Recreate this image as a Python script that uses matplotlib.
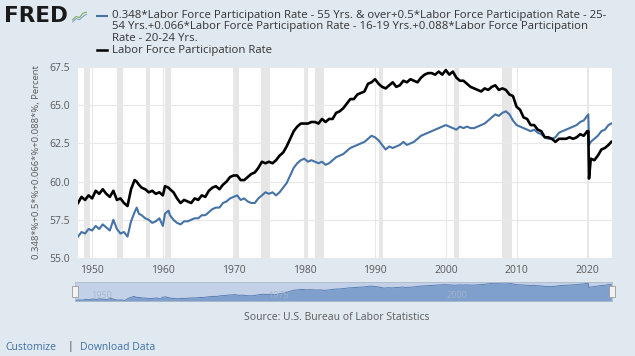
import matplotlib
matplotlib.use("Agg")
import matplotlib.pyplot as plt
import numpy as np

plt.rcParams['font.family'] = ['Open Sans', 'DejaVu Sans']

# black: Labor Force Participation Rate
lfpr_t = [1948.0, 1948.5, 1949.0, 1949.5, 1950.0, 1950.5, 1951.0, 1951.5, 1952.0, 1952.5,
          1953.0, 1953.5, 1954.0, 1954.5, 1955.0, 1955.5, 1956.0, 1956.3, 1956.6, 1957.0,
          1957.5, 1958.0, 1958.5, 1959.0, 1959.5, 1960.0, 1960.3, 1960.8, 1961.0, 1961.5,
          1962.0, 1962.5, 1963.0, 1963.5, 1964.0, 1964.5, 1965.0, 1965.5, 1966.0, 1966.5,
          1967.0, 1967.5, 1968.0, 1968.5, 1969.0, 1969.5, 1970.0, 1970.5, 1971.0, 1971.5,
          1972.0, 1972.5, 1973.0, 1973.5, 1974.0, 1974.5, 1975.0, 1975.5, 1976.0, 1976.5,
          1977.0, 1977.5, 1978.0, 1978.5, 1979.0, 1979.5, 1980.0, 1980.5, 1981.0, 1981.5,
          1982.0, 1982.5, 1983.0, 1983.5, 1984.0, 1984.5, 1985.0, 1985.5, 1986.0, 1986.5,
          1987.0, 1987.5, 1988.0, 1988.5, 1989.0, 1989.5, 1990.0, 1990.5, 1991.0, 1991.5,
          1992.0, 1992.5, 1993.0, 1993.5, 1994.0, 1994.5, 1995.0, 1995.5, 1996.0, 1996.5,
          1997.0, 1997.5, 1998.0, 1998.5, 1999.0, 1999.5, 2000.0, 2000.5, 2001.0, 2001.5,
          2002.0, 2002.5, 2003.0, 2003.5, 2004.0, 2004.5, 2005.0, 2005.5, 2006.0, 2006.5,
          2007.0, 2007.5, 2008.0, 2008.5, 2009.0, 2009.5, 2010.0, 2010.5, 2011.0, 2011.5,
          2012.0, 2012.5, 2013.0, 2013.5, 2014.0, 2014.5, 2015.0, 2015.5, 2016.0, 2016.5,
          2017.0, 2017.5, 2018.0, 2018.5, 2019.0, 2019.5, 2020.0, 2020.15, 2020.25, 2020.5,
          2021.0, 2021.5, 2022.0, 2022.5, 2023.0, 2023.4]
lfpr = [58.6, 59.0, 58.8, 59.1, 58.9, 59.4, 59.2, 59.5, 59.2, 59.0,
        59.4, 58.8, 58.9, 58.6, 58.4, 59.5, 60.1, 60.0, 59.8, 59.6,
        59.5, 59.3, 59.4, 59.2, 59.3, 59.1, 59.7, 59.6, 59.5, 59.3,
        58.9, 58.6, 58.8, 58.7, 58.6, 58.9, 58.8, 59.1, 59.0, 59.4,
        59.6, 59.7, 59.5, 59.8, 60.0, 60.3, 60.4, 60.4, 60.1, 60.1,
        60.3, 60.5, 60.6, 60.9, 61.3, 61.2, 61.3, 61.2, 61.4, 61.7,
        61.9, 62.3, 62.8, 63.3, 63.6, 63.8, 63.8, 63.8, 63.9, 63.9,
        63.8, 64.1, 63.9, 64.1, 64.1, 64.5, 64.6, 64.8, 65.1, 65.4,
        65.4, 65.7, 65.8, 65.9, 66.4, 66.5, 66.7, 66.4, 66.2, 66.1,
        66.3, 66.5, 66.2, 66.3, 66.6, 66.5, 66.7, 66.6, 66.5, 66.8,
        67.0, 67.1, 67.1, 67.0, 67.2, 67.0, 67.3, 67.0, 67.2, 66.8,
        66.6, 66.6, 66.4, 66.2, 66.1, 66.0, 65.9, 66.1, 66.0, 66.2,
        66.3, 66.0, 66.1, 66.0, 65.7, 65.6, 64.9, 64.7, 64.2, 64.1,
        63.7, 63.7, 63.4, 63.3, 62.9, 62.9, 62.8, 62.6, 62.8, 62.8,
        62.8, 62.9, 62.8, 62.9, 63.1, 63.0, 63.3, 63.3, 60.2, 61.5,
        61.4, 61.7, 62.1, 62.2, 62.4, 62.6]

# blue: weighted sum of age group participation rates
wsum_t = lfpr_t
wsum = [56.4, 56.7, 56.6, 56.9, 56.8, 57.1, 56.9, 57.2, 57.0, 56.8,
        57.5, 56.9, 56.6, 56.7, 56.4, 57.4, 58.0, 58.3, 57.9, 57.8,
        57.6, 57.5, 57.3, 57.4, 57.6, 57.1, 57.9, 58.1, 57.8, 57.5,
        57.3, 57.2, 57.4, 57.4, 57.5, 57.6, 57.6, 57.8, 57.8, 58.0,
        58.2, 58.3, 58.3, 58.6, 58.7, 58.9, 59.0, 59.1, 58.8, 58.9,
        58.7, 58.6, 58.6, 58.9, 59.1, 59.3, 59.2, 59.3, 59.1, 59.3,
        59.6, 59.9, 60.4, 60.9, 61.2, 61.4, 61.5, 61.3, 61.4, 61.3,
        61.2, 61.3, 61.1, 61.2, 61.4, 61.6, 61.7, 61.8, 62.0, 62.2,
        62.3, 62.4, 62.5, 62.6, 62.8, 63.0, 62.9, 62.7, 62.4, 62.1,
        62.3, 62.2, 62.3, 62.4, 62.6, 62.4, 62.5, 62.6, 62.8, 63.0,
        63.1, 63.2, 63.3, 63.4, 63.5, 63.6, 63.7, 63.6, 63.5, 63.4,
        63.6, 63.5, 63.6, 63.5, 63.5, 63.6, 63.7, 63.8, 64.0, 64.2,
        64.4, 64.3, 64.5, 64.6, 64.4, 64.0, 63.7, 63.6, 63.5, 63.4,
        63.3, 63.4, 63.2, 63.1, 62.9, 62.8, 62.8, 62.9, 63.2, 63.3,
        63.4, 63.5, 63.6, 63.7, 63.9, 64.0, 64.3, 64.4, 62.4, 62.6,
        62.8, 63.0, 63.3, 63.4, 63.7, 63.8]

# recessions (start, end)
rec_start = [1948.83, 1953.5, 1957.58, 1960.25, 1969.92, 1973.83, 1980.0, 1981.5,
             1990.5, 2001.17, 2007.92, 2020.08]
rec_end = [1949.75, 1954.33, 1958.25, 1961.08, 1970.83, 1975.17, 1980.5, 1982.83,
           1991.17, 2001.83, 2009.42, 2020.25]

yticks = [55.0, 57.5, 60.0, 62.5, 65.0, 67.5]
xticks = [1950, 1960, 1970, 1980, 1990, 2000, 2010, 2020]

W, H = 635, 356
bg = '#e1e9f0'
txtc = '#595959'
blue = '#4572a7'

fig = plt.figure(figsize=(W / 100, H / 100), dpi=100, facecolor=bg)

ax = fig.add_axes([78 / W, 1 - 258 / H, 534 / W, (258 - 67) / H])
ax.set_facecolor('white')
for a, b in zip(rec_start, rec_end):
    ax.axvspan(a, b, color='#e6e6e6', lw=0, zorder=0)
ax.plot(wsum_t, wsum, color=blue, lw=1.5, zorder=3)
ax.plot(lfpr_t, lfpr, color='black', lw=1.9, zorder=4)
ax.set_xlim(1948.0, 2023.5)
ax.set_ylim(55.0, 67.5)
ax.set_yticks(yticks)
ax.set_yticklabels(['%.1f' % v for v in yticks])
ax.set_xticks(xticks)
ax.grid(True, color='#e8e8e8', lw=0.8, zorder=1)
ax.set_axisbelow(True)
for s in ax.spines.values():
    s.set_visible(False)
ax.tick_params(axis='both', length=0, labelsize=7.5, colors=txtc)
ax.tick_params(axis='x', pad=5)
ax.tick_params(axis='y', pad=6)
ax.set_ylabel('0.348*%+0.5*%+0.066*%+0.088*%, Percent', fontsize=6.8, color=txtc, labelpad=6)

# navigator
nav = fig.add_axes([75 / W, 1 - 301 / H, 537 / W, 19 / H])
nav.set_facecolor('#c3d1e8')
nav.fill_between(wsum_t, 55.0, wsum, color='#7f9fcc', lw=0)
nav.plot(wsum_t, wsum, color='#5b7fb5', lw=0.7)
nav.set_xlim(1948.0, 2023.5)
nav.set_ylim(56.2, 64.9)
nav.set_xticks([])
nav.set_yticks([])
for s in nav.spines.values():
    s.set_color('#b0bccb')
    s.set_linewidth(0.6)
for yr in [1950, 1975, 2000]:
    nav.text(yr + 0.2, 56.5, str(yr), fontsize=6.5, color='#a8b6cc', va='bottom', alpha=0.9)
for hx in [0.0, 1.0]:
    fig.patches.append(plt.Rectangle(((75 + hx * 537) / W - 3 / W, 1 - 297 / H), 6 / W, 11 / H,
                                     transform=fig.transFigure, facecolor='#f2f2f2',
                                     edgecolor='#999999', lw=0.6, zorder=5))

fig.text(337 / W, 1 - 318 / H, 'Source: U.S. Bureau of Labor Statistics', fontsize=7.5,
         color=txtc, ha='center', va='center')
fig.text(5 / W, 1 - 347 / H, 'Customize', fontsize=7.5, color='#3f6fa6', va='center')
fig.text(68 / W, 1 - 347 / H, '|', fontsize=7.5, color='#444444', va='center')
fig.text(80 / W, 1 - 347 / H, 'Download Data', fontsize=7.5, color='#3f6fa6', va='center')

# header
fig.text(4 / W, 1 - 16 / H, 'FRED', fontsize=15.5, fontweight='heavy', color='#1a1a1a',
         va='center', family=['DejaVu Sans'])
icon = fig.add_axes([72 / W, 1 - 24 / H, 15 / W, 14 / H])
icon.axis('off')
icon.plot([0, 1, 2, 3, 4], [0.2, 0.5, 0.4, 0.8, 0.9], color='#7fae5c', lw=0.8)
icon.plot([0, 1, 2, 3, 4], [0.0, 0.3, 0.2, 0.5, 0.7], color='#7fa3c9', lw=0.8)
icon.set_ylim(-0.2, 1.1)

leg_lines = ['0.348*Labor Force Participation Rate - 55 Yrs. & over+0.5*Labor Force Participation Rate - 25-',
             '54 Yrs.+0.066*Labor Force Participation Rate - 16-19 Yrs.+0.088*Labor Force Participation',
             'Rate - 20-24 Yrs.']
ys = [15.7, 27.0, 38.3]
for t, y in zip(leg_lines, ys):
    fig.text(112 / W, 1 - y / H, t, fontsize=8.2, color='#333333', va='center')
fig.text(112 / W, 1 - 50.0 / H, 'Labor Force Participation Rate', fontsize=8.2, color='#333333', va='center')
fig.add_artist(plt.Line2D([97 / W, 107 / W], [1 - 15.7 / H, 1 - 15.7 / H], color=blue, lw=1.5))
fig.add_artist(plt.Line2D([97 / W, 107 / W], [1 - 50.0 / H, 1 - 50.0 / H], color='black', lw=1.8))

fig.savefig('out.png', dpi=100, facecolor=bg)
